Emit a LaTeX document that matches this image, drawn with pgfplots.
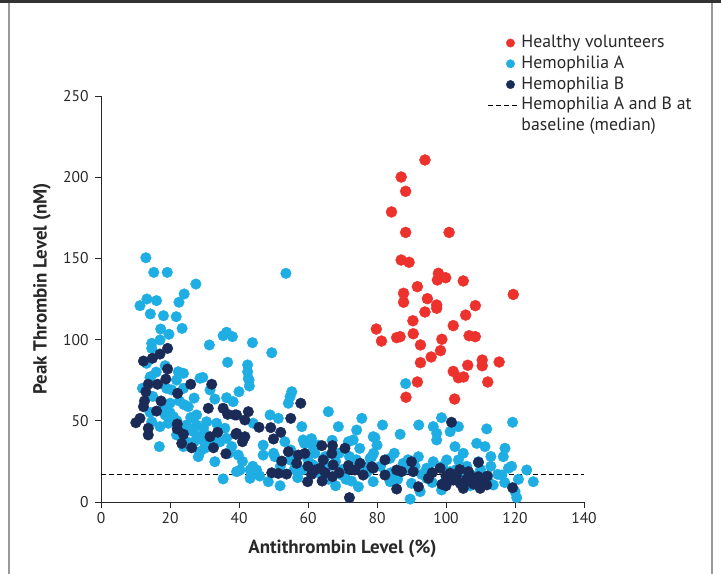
\documentclass[border=0pt]{standalone}
\usepackage{pgfplots}
\pgfplotsset{compat=1.18}
\usepackage{fontspec}
\setmainfont{PT Sans}
\definecolor{healthy}{RGB}{237,50,45}
\definecolor{hemA}{RGB}{30,174,228}
\definecolor{hemB}{RGB}{27,43,88}
\definecolor{axisgray}{RGB}{40,40,40}

\begin{document}
\begin{tikzpicture}
\useasboundingbox (0bp,0bp) rectangle (721bp,574bp);
\fill[white] (0bp,0bp) rectangle (721bp,574bp);
\draw[black!40, line width=1.5bp] (9bp,0bp) -- (9bp,574bp);
\draw[black!40, line width=1.5bp] (712bp,0bp) -- (712bp,574bp);
\draw[black!80, line width=3bp] (0bp,572.5bp) -- (721bp,572.5bp);
\begin{axis}[
  at={(101bp,72bp)}, anchor=south west,
  scale only axis, width=483bp, height=406bp,
  xmin=0, xmax=140, ymin=0, ymax=250,
  axis lines*=left,
  xtick={0,20,...,140}, ytick={0,50,...,250},
  tick align=outside, major tick length=6bp,
  axis line style={line width=1bp, axisgray},
  tick style={line width=0.9bp, axisgray},
  tick label style={font=\fontsize{15.6}{18}\selectfont, text=axisgray},
  yticklabel style={xshift=-3bp},
  xticklabel style={yshift=-1bp},
  /pgf/number format/assume math mode=true,
  xlabel={\textbf{Antithrombin Level (\%)}},
  ylabel={\textbf{Peak Thrombin Level (nM)}},
  label style={font=\fontsize{19}{22}\selectfont, text=axisgray},
  xlabel style={at={(axis description cs:0.5,-0.116)}, anchor=center},
  ylabel style={at={(axis description cs:-0.122,0.525)}, anchor=center},
  clip=false,
  legend style={at={(axis description cs:0.8012,1.1526)}, anchor=north west,
    draw=none, fill=none, inner sep=0pt, outer sep=0pt,
    row sep=2.75bp, column sep=3bp,
    font=\fontsize{17.8}{20}\selectfont, text=axisgray,
    nodes={inner sep=0.5bp, text height=13bp, text depth=4bp}},
  legend cell align=left,
]
\addlegendimage{legend image code/.code={\fill[healthy] (22bp,0bp) circle (4.2bp);}}
\addlegendentry{Healthy volunteers}
\addlegendimage{legend image code/.code={\fill[hemA] (22bp,0bp) circle (4.2bp);}}
\addlegendentry{Hemophilia A}
\addlegendimage{legend image code/.code={\fill[hemB] (22bp,0bp) circle (4.2bp);}}
\addlegendentry{Hemophilia B}
\addlegendimage{legend image code/.code={\draw[black, line width=1bp, dash pattern=on 5bp off 3bp] (0bp,0bp) -- (29bp,0bp);}}
\addlegendentry{Hemophilia A and B at}
\addlegendimage{empty legend}
\addlegendentry{baseline (median)}

% Hemophilia A
\addplot[only marks, mark=*, mark size=5.3bp, color=hemA, forget plot] coordinates {
(13.0,150.4) (15.3,141.4) (19.2,141.4) (27.5,134.2) (24.1,128.1) (22.6,123.0)
(13.3,125.0) (16.1,124.0) (11.3,120.9) (14.3,115.8) (18.1,114.7) (21.8,114.1)
(23.5,106.9) (17.3,106.5) (19.7,103.3) (17.1,99.8) (14.7,97.7) (14.7,94.6)
(35.4,102.4) (38.1,101.8) (36.4,104.5) (31.4,96.7) (36.7,86.0) (13.2,85.4)
(18.6,83.9) (14.4,77.2) (22.4,80.2) (23.9,79.2) (29.5,76.7) (53.6,140.8)
(43.9,98.1) (49.5,91.9) (42.5,84.4) (42.5,80.2) (42.7,76.1) (88.3,72.9)
(14.2,76.6) (21.9,75.1) (20.5,69.0) (23.9,70.0) (28.7,76.2) (31.6,69.0)
(22.7,62.2) (20.0,60.8) (25.3,58.7) (18.6,53.6) (21.0,52.5) (27.7,53.6)
(14.7,49.4) (17.1,46.4) (19.5,48.5) (24.8,47.4) (27.7,47.4) (29.7,45.4)
(26.8,43.3) (30.6,49.4) (33.5,48.5) (35.9,45.4) (28.7,39.2) (30.1,36.1)
(24.8,37.1) (28.7,31.0) (28.2,27.9) (23.9,34.1) (21.9,41.3) (34.5,37.1)
(36.4,39.2) (37.9,34.1) (33.0,24.8) (35.4,14.2) (16.9,34.1) (39.3,18.7)
(33.0,63.4) (36.4,64.2) (38.3,61.8) (14.2,55.2) (42.9,75.1) (43.0,71.4)
(40.0,67.9) (55.3,67.9) (54.8,64.8) (54.3,60.8) (49.0,53.6) (51.4,51.5)
(44.1,48.5) (58.2,46.4) (65.9,55.6) (68.8,46.4) (75.6,51.5) (74.1,44.3)
(58.6,38.2) (53.3,37.1) (47.0,28.9) (50.4,27.9) (61.5,34.1) (71.7,37.1)
(73.1,38.2) (39.8,28.9) (40.3,19.7) (43.2,19.7) (45.1,19.7) (43.2,14.6)
(48.5,12.5) (51.9,10.0) (58.2,19.7) (61.5,22.8) (69.8,16.6) (72.6,12.9)
(74.6,9.4) (78.0,26.9) (78.9,40.2) (54.8,25.9) (81.6,47.4) (79.4,39.6)
(86.7,41.7) (92.1,47.4) (98.7,51.9) (96.3,46.4) (97.3,42.3) (97.3,38.2)
(101.2,43.3) (103.6,46.4) (102.6,34.1) (111.8,45.0) (119.3,49.1) (108.9,36.1)
(111.3,34.1) (117.1,33.1) (116.6,27.9) (109.4,24.8) (123.4,19.7) (125.3,12.5)
(118.1,20.8) (120.5,2.7) (120.0,6.4) (89.6,1.8) (78.5,27.9) (83.8,26.9)
(87.6,23.8) (92.0,27.9) (96.3,24.8) (100.2,25.9) (103.6,25.9) (78.9,12.5)
(83.8,12.5) (90.0,11.5) (94.4,14.6) (98.7,7.4) (92.5,6.4) (113.7,10.5)
(116.2,16.6) (94.4,20.8) (101.2,18.7)
(60,26) (62,30) (63,18) (65,28) (66,22) (68,25) (69,30) (70,20) (72,28)
(74,26) (76,22) (77,18) (79,30) (66,14) (71,14) (68,10)
(81,22) (84,18) (86,14) (88,20) (89,26) (91,22) (93,17) (95,20) (96,12)
(99,22) (100,14) (103,20) (104,15) (106,22) (107,10) (108,16) (110,20)
(112,14) (113,22) (115,17) (117,12) (119,22) (121,14)
(41,25) (44,22) (46,16) (47,35) (50,30) (52,22) (55,32) (56,20) (57,15)
(59,36) (61,39)
(12,70) (15,65) (18,58) (20,55) (22,50) (25,45) (26,52) (28,40) (30,42)
(32,38) (16,80) (19,70) (24,60) (27,64) (34,44) (37,30) (30,33) (27,37)
(63,35) (67,38) (75,33) (80,35) (85,30) (105,30) (113,28)
};

% Hemophilia B
\addplot[only marks, mark=*, mark size=5.3bp, color=hemB, forget plot] coordinates {
(19.3,94.6) (17.1,91.1) (14.9,88.5) (12.3,86.8) (19.3,81.9) (18.8,75.7)
(16.4,72.5) (13.7,72.5) (13.0,67.9) (12.6,62.2) (12.3,58.7) (17.4,62.2)
(16.1,56.0) (11.3,51.5) (10.1,48.8) (13.7,45.4) (13.7,41.3) (22.2,66.9)
(26.0,72.5) (32.1,72.5) (22.1,48.0) (22.1,45.0) (23.9,41.7) (23.4,36.1)
(26.3,33.4) (31.1,57.7) (35.4,57.7) (36.7,54.0) (38.8,53.6) (31.6,40.2)
(33.8,42.9) (32.6,33.4) (36.2,29.7) (39.1,41.7) (57.9,60.8) (55.0,51.5)
(45.8,46.0) (49.2,45.8) (50.0,38.8) (52.1,42.9) (42.7,55.6) (41.7,50.5)
(39.3,53.6) (39.3,42.3) (41.0,37.1) (41.7,40.2) (54.3,31.0) (52.4,25.2)
(57.2,28.9) (59.1,29.9) (56.7,23.8) (49.5,18.0) (51.4,17.6) (53.8,17.2)
(59.9,12.5) (62.0,19.7) (64.0,34.7) (67.1,34.7) (70.7,33.1) (66.9,29.9)
(64.4,25.9) (63.5,20.8) (67.3,22.8) (64.1,12.9) (67.1,15.6) (71.7,22.4)
(75.1,23.8) (73.6,19.7) (76.0,16.6) (72.0,2.7) (78.5,21.7) (101.6,49.1)
(82.3,25.9) (78.9,20.8) (82.3,16.6) (85.7,19.7) (87.1,18.7) (90.0,24.8)
(90.5,18.7) (85.7,8.0) (92.0,9.4) (94.9,14.6) (98.3,20.8) (98.8,10.9)
(101.2,17.7) (102.1,13.5) (104.1,11.5) (105.0,8.4) (107.0,12.5) (106.5,18.7)
(109.4,24.4) (109.4,15.6) (109.9,8.4) (111.8,10.5) (119.3,8.8)
(60,22) (61,17) (65,18) (69,18) (72,20) (103,16) (106,14) (108,11) (100,16)
(104,20) (107,16) (110,12) (112,16) (100,10) (96,18)
};

% Healthy volunteers
\addplot[only marks, mark=*, mark size=5.5bp, color=healthy, forget plot] coordinates {
(93.9,210.6) (87.0,200.1) (88.3,191.3) (84.2,178.6) (88.3,166.0) (100.9,166.0)
(87.0,149.0) (89.3,147.6) (97.8,140.8) (99.9,138.1) (97.5,136.7) (105.0,136.1)
(119.5,127.8) (91.7,132.6) (87.7,128.5) (87.7,123.0) (94.6,125.2) (97.3,121.3)
(97.3,119.3) (108.5,120.9) (93.9,117.0) (105.7,115.1) (90.4,111.6) (79.8,106.5)
(102.1,108.6) (81.3,99.1) (85.7,101.2) (86.7,101.8) (90.5,103.6) (92.6,96.7)
(98.8,100.2) (106.7,102.4) (108.5,101.8) (98.4,93.2) (95.7,89.3) (92.6,85.8)
(106.3,84.2) (110.5,87.4) (110.5,83.9) (115.4,86.2) (102.1,80.4) (103.6,76.5)
(105.1,77.0) (112.1,73.9) (91.7,73.9) (88.4,64.5) (102.5,63.4)
};

% baseline median
\addplot[black, line width=1bp, dash pattern=on 5bp off 3bp, forget plot] coordinates {(0,17) (140,17)};
\end{axis}
\end{tikzpicture}
\end{document}
